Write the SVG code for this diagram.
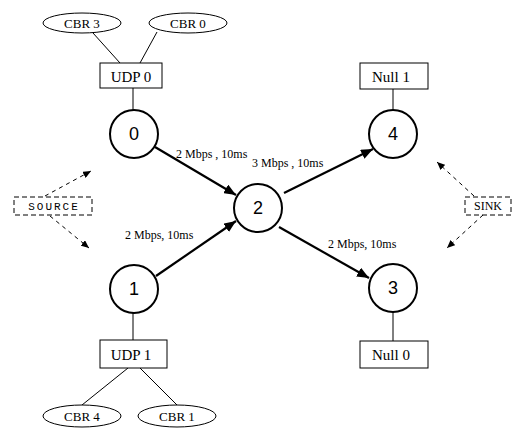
<svg xmlns="http://www.w3.org/2000/svg" width="512" height="430" viewBox="0 0 512 430">
<defs>
<style>
.bg{fill:#fff}
.circ{fill:#fff;stroke:#000;stroke-width:2}
.box{fill:#fff;stroke:#000;stroke-width:1}
.ell{fill:#fff;stroke:#000;stroke-width:1}
.dbox{fill:#fff;stroke:#000;stroke-width:1;stroke-dasharray:5,3}
.thin{stroke:#000;stroke-width:1;fill:none}
.link{stroke:#000;stroke-width:2.2;fill:none;marker-end:url(#ah)}
.dash{stroke:#000;stroke-width:1;fill:none;stroke-dasharray:4,4;marker-end:url(#dh)}
.num{font-family:'Liberation Sans',Arial,sans-serif;font-size:18px;text-anchor:middle}
.lbl{font-family:'Liberation Serif','DejaVu Serif',serif;font-size:15px;text-anchor:middle}
.cbr{font-family:'Liberation Serif','DejaVu Serif',serif;font-size:13px;text-anchor:middle}
.bw{font-family:'Liberation Serif','DejaVu Serif',serif;font-size:12px}
.src{font-family:'Liberation Mono','DejaVu Sans Mono',monospace;font-size:11px;letter-spacing:2px;text-anchor:middle}
.snk{font-family:'Liberation Serif','DejaVu Serif',serif;font-size:12px;text-anchor:middle}
</style>
<marker id="ah" markerUnits="userSpaceOnUse" markerWidth="12" markerHeight="10" refX="12" refY="5" orient="auto"><path d="M0,0 L12,5 L0,10 z" fill="#000"/></marker>
<marker id="dh" markerUnits="userSpaceOnUse" markerWidth="8" markerHeight="7" refX="8" refY="3.5" orient="auto"><path d="M0,0 L8,3.5 L0,7 z" fill="#000"/></marker>
</defs>
<rect class="bg" x="0" y="0" width="512" height="430"/>
<g id="connectors">
<line class="thin" x1="93" y1="33" x2="120" y2="63"/>
<line class="thin" x1="157" y1="32" x2="140" y2="63"/>
<line class="thin" x1="133" y1="88" x2="133" y2="110"/>
<line class="thin" x1="393" y1="89" x2="393" y2="110"/>
<line class="thin" x1="133" y1="313" x2="133" y2="340"/>
<line class="thin" x1="128" y1="368" x2="82" y2="405"/>
<line class="thin" x1="140" y1="368" x2="177" y2="405"/>
<line class="thin" x1="393" y1="312" x2="393" y2="341"/>
<line class="link" x1="155" y1="147" x2="236" y2="195"/>
<line class="link" x1="156" y1="276" x2="236" y2="221"/>
<line class="link" x1="284" y1="193" x2="373" y2="149"/>
<line class="link" x1="279" y1="227" x2="369" y2="278"/>
<line class="dash" x1="45" y1="196" x2="91" y2="171"/>
<line class="dash" x1="50" y1="216" x2="89" y2="248"/>
<line class="dash" x1="474" y1="196" x2="437" y2="162"/>
<line class="dash" x1="483" y1="215" x2="447" y2="248"/>
<text class="bw" x="176" y="158">2 Mbps , 10ms</text>
<text class="bw" x="252" y="167">3 Mbps , 10ms</text>
<text class="bw" x="125" y="239">2 Mbps, 10ms</text>
<text class="bw" x="328" y="248">2 Mbps, 10ms</text>
</g>
<g id="cbr3"><ellipse class="ell" cx="82" cy="23" rx="39" ry="10"/><text class="cbr" x="82" y="28">CBR 3</text></g>
<g id="cbr0"><ellipse class="ell" cx="188" cy="23" rx="39" ry="10"/><text class="cbr" x="188" y="28">CBR 0</text></g>
<g id="udp0"><rect class="box" x="100" y="63" width="62" height="25"/><text class="lbl" x="131" y="82">UDP 0</text></g>
<g id="n0"><circle class="circ" cx="134" cy="134" r="24"/><text class="num" x="134" y="140">0</text></g>
<g id="n1"><circle class="circ" cx="134" cy="289" r="24"/><text class="num" x="134" y="295">1</text></g>
<g id="n2"><circle class="circ" cx="258" cy="208" r="24"/><text class="num" x="258" y="214">2</text></g>
<g id="n3"><circle class="circ" cx="393" cy="288" r="24"/><text class="num" x="393" y="294">3</text></g>
<g id="n4"><circle class="circ" cx="393" cy="134" r="24"/><text class="num" x="393" y="140">4</text></g>
<g id="null1"><rect class="box" x="360" y="63" width="68" height="26"/><text class="lbl" x="391" y="82">Null 1</text></g>
<g id="null0"><rect class="box" x="360" y="341" width="68" height="27"/><text class="lbl" x="391" y="360">Null 0</text></g>
<g id="udp1"><rect class="box" x="100" y="340" width="67" height="28"/><text class="lbl" x="131" y="360">UDP 1</text></g>
<g id="cbr4"><ellipse class="ell" cx="82" cy="416" rx="39" ry="11"/><text class="cbr" x="82" y="421">CBR 4</text></g>
<g id="cbr1"><ellipse class="ell" cx="177" cy="416" rx="39" ry="11"/><text class="cbr" x="177" y="421">CBR 1</text></g>
<g id="source"><rect class="dbox" x="14" y="197" width="78" height="18"/><text class="src" x="54" y="210">SOURCE</text></g>
<g id="sink"><rect class="dbox" x="465" y="197" width="46" height="18"/><text class="snk" x="488" y="210">SINK</text></g>
</svg>
